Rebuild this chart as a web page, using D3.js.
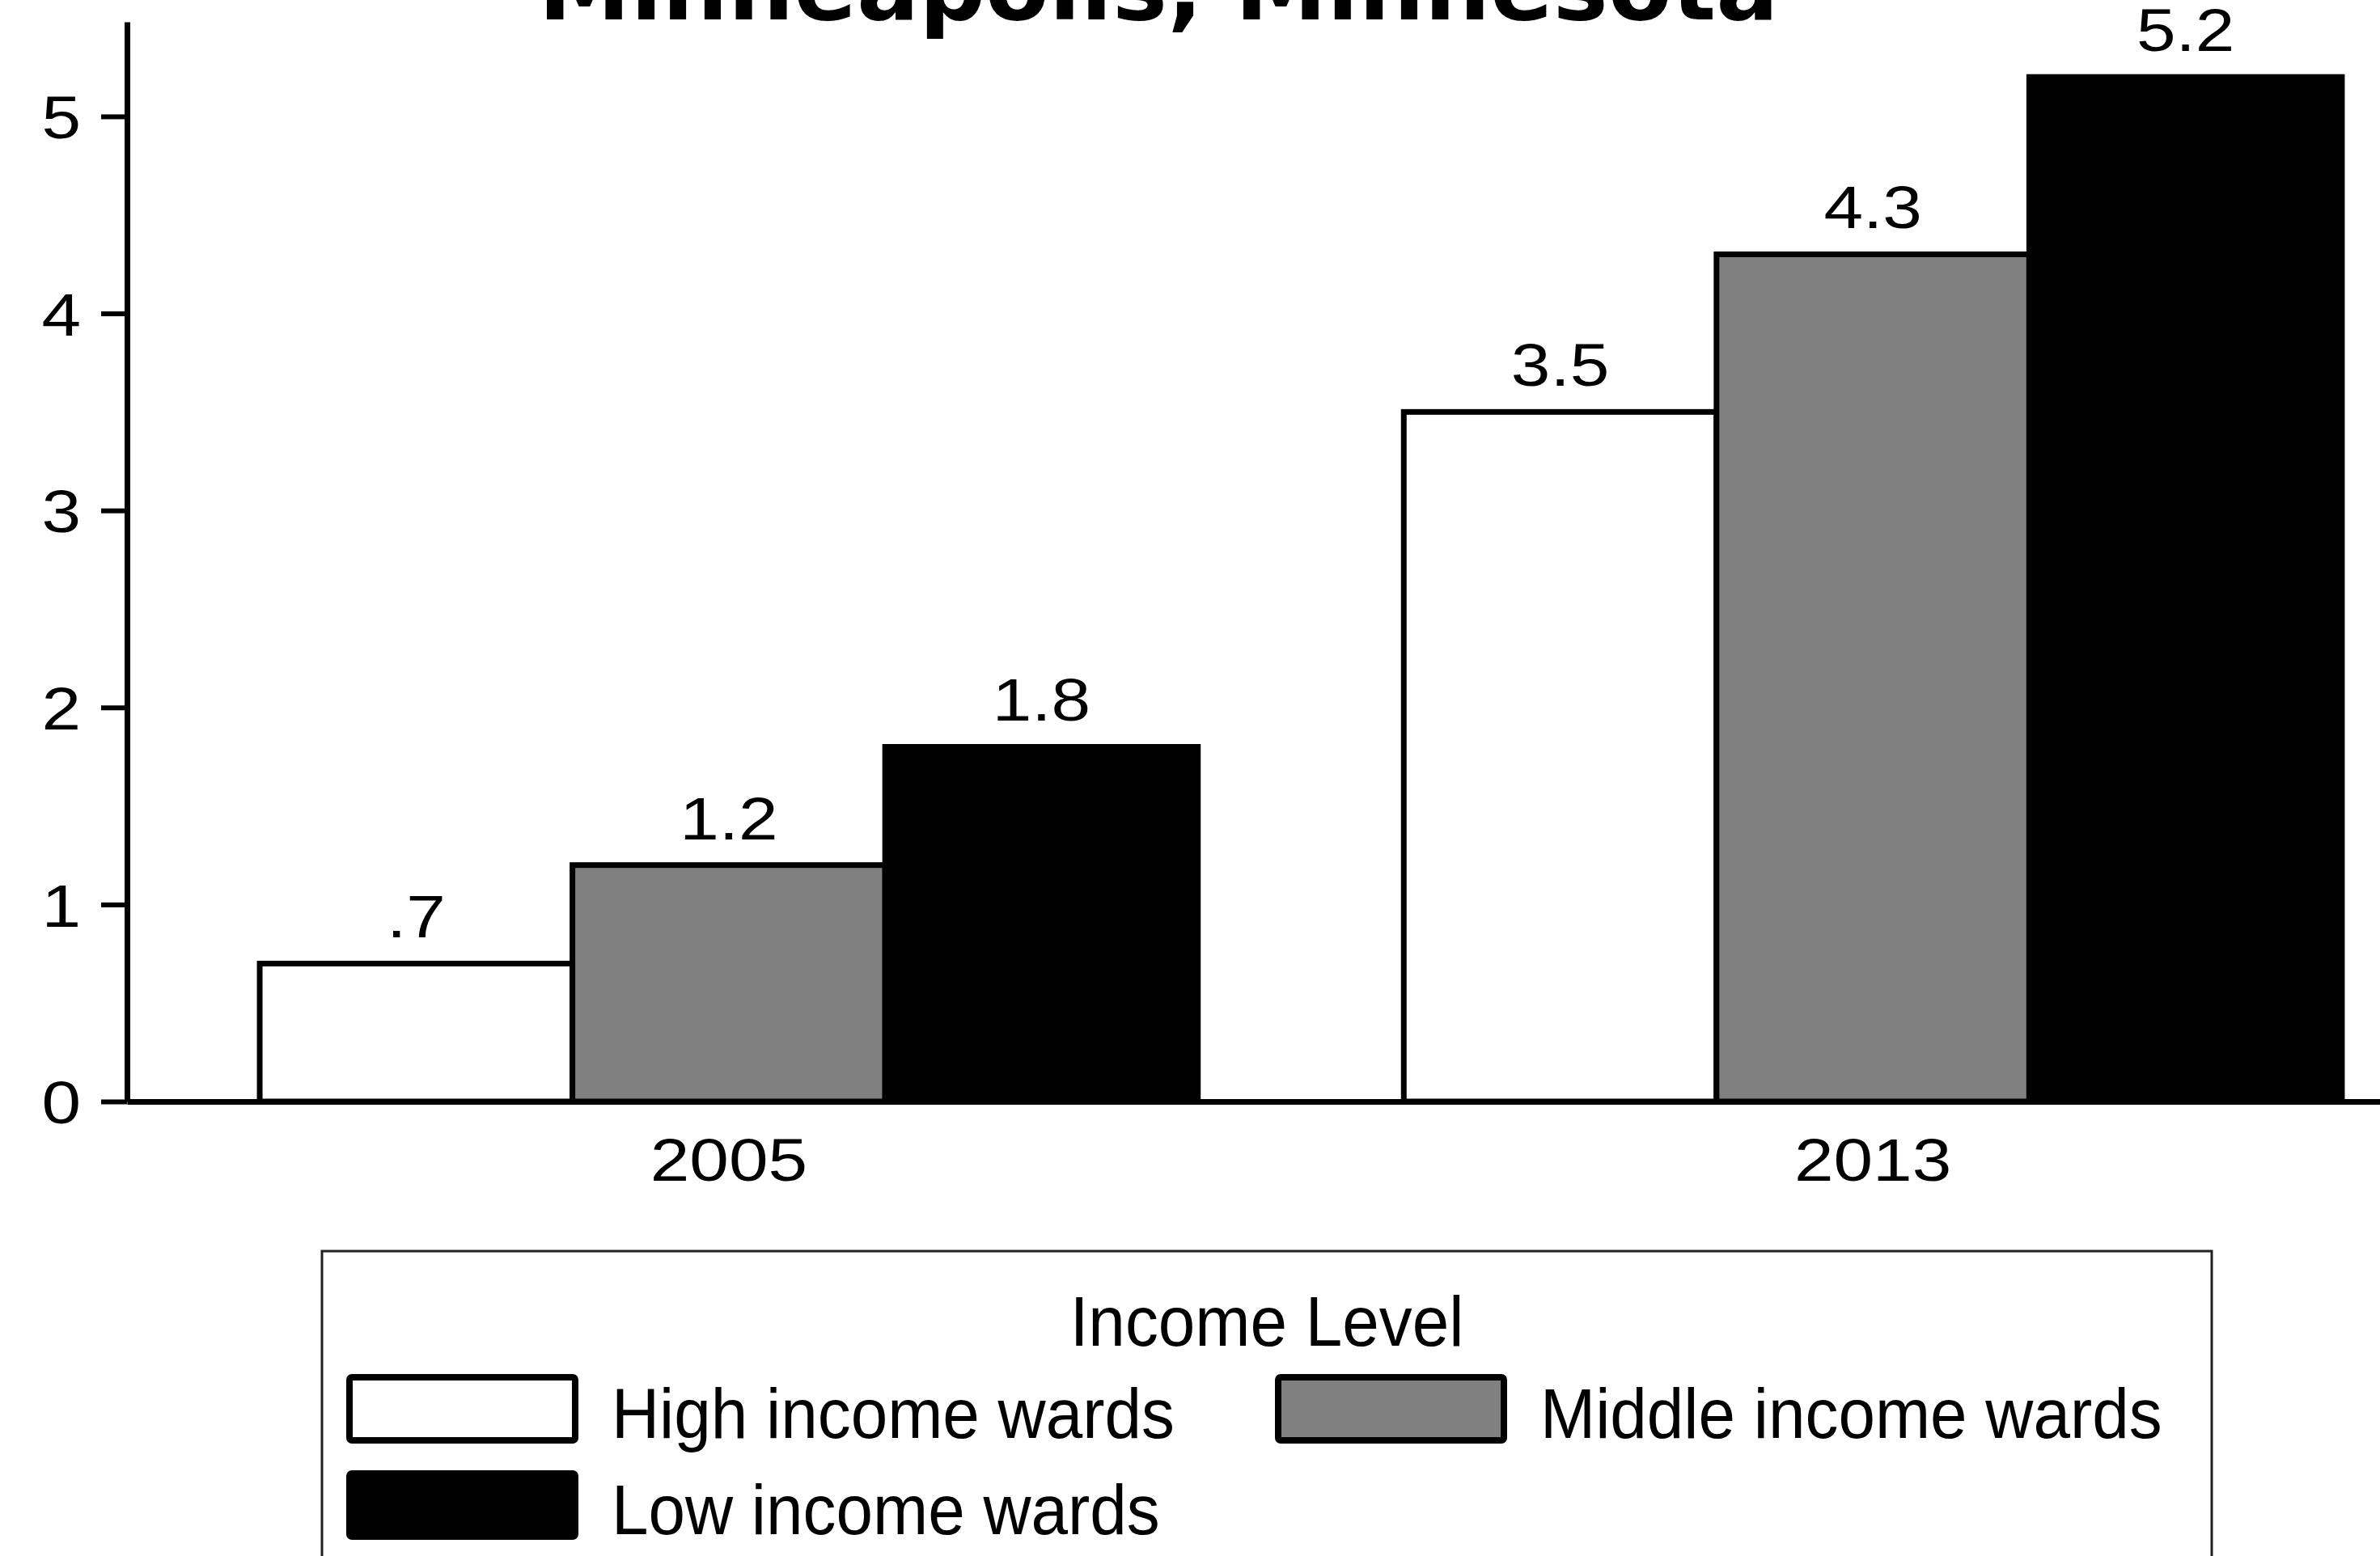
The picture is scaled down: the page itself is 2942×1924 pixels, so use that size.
<!DOCTYPE html>
<html>
<head>
<meta charset="utf-8">
<script src="https://cdn.jsdelivr.net/npm/d3@7"></script>
<style>
  html, body { margin: 0; padding: 0; background: #fff; }
  svg { display: block; }
</style>
</head>
<body>
<script>
// ---------- data ----------
const titleText = "Minneapolis, Minnesota";
const years = ["2005", "2013"];
const seriesNames = ["High income wards", "Middle income wards", "Low income wards"];
const highIncome = [0.7, 3.5];
const middleIncome = [1.2, 4.3];
const lowIncome = [1.8, 5.2];
const yTicks = [0, 1, 2, 3, 4, 5];
const legendTitle = "Income Level";

// ---------- styles ----------
const fills = ["#ffffff", "#808080", "#000000"];
const W = 2942, H = 1924;
const numFont = "'Liberation Sans', Arial, Helvetica, sans-serif";
const numSize = 74, numScaleX = 1.18;
const legSize = 88, legScaleX = 0.93;

const seriesValues = [highIncome, middleIncome, lowIncome];
const rows = [];
years.forEach((yr, i) => seriesNames.forEach((s, j) => rows.push({ year: yr, series: s, idx: j, value: seriesValues[j][i] })));

const svg = d3.select("body").append("svg").attr("width", W).attr("height", H);
svg.append("rect").attr("width", W).attr("height", H).attr("fill", "#fff");

// ---------- scales ----------
const x0 = d3.scaleBand().domain(years).range([157, 3059]).paddingInner(0.18).paddingOuter(0.116);
const x1 = d3.scaleBand().domain(seriesNames).range([0, x0.bandwidth()]).padding(0);
const y = d3.scaleLinear().domain([0, 5.48]).range([1362, 27]);

const fmt = v => d3.format(".1f")(v).replace(/^0\./, ".");

// ---------- bars ----------
const bars = svg.append("g");
bars.selectAll("rect").data(rows).join("rect")
  .attr("x", d => x0(d.year) + x1(d.series))
  .attr("y", d => y(d.value))
  .attr("width", x1.bandwidth())
  .attr("height", d => y(0) - y(d.value))
  .attr("fill", d => fills[d.idx])
  .attr("stroke", "#000")
  .attr("stroke-width", 7);

// value labels
svg.append("g").selectAll("text").data(rows).join("text")
  .attr("transform", d => `translate(${x0(d.year) + x1(d.series) + x1.bandwidth() / 2},${y(d.value) - 32}) scale(${numScaleX},1)`)
  .attr("text-anchor", "middle")
  .attr("font-family", numFont)
  .attr("font-size", numSize)
  .attr("fill", "#000")
  .text(d => fmt(d.value));

// ---------- y axis ----------
const yAxis = svg.append("g").attr("transform", "translate(157,0)")
  .call(d3.axisLeft(y).tickValues(yTicks).tickSize(32).tickSizeOuter(0).tickFormat(d3.format("d")));
yAxis.select(".domain").attr("stroke", "#000").attr("stroke-width", 7);
yAxis.selectAll(".tick line").attr("stroke", "#000").attr("stroke-width", 6);
yAxis.selectAll(".tick text")
  .attr("x", null).attr("dy", null)
  .attr("transform", `translate(-57,${numSize * 0.36}) scale(${numScaleX},1)`)
  .attr("text-anchor", "end")
  .attr("font-family", numFont)
  .attr("font-size", numSize)
  .attr("fill", "#000");

// ---------- x axis ----------
const xAxis = svg.append("g").attr("transform", `translate(0,${y(0)})`)
  .call(d3.axisBottom(x0).tickSize(0).tickSizeOuter(0));
xAxis.select(".domain").attr("stroke", "#000").attr("stroke-width", 7);
xAxis.selectAll(".tick text")
  .attr("y", null).attr("dy", null)
  .attr("transform", `translate(0,98) scale(${numScaleX},1)`)
  .attr("text-anchor", "middle")
  .attr("font-family", numFont)
  .attr("font-size", numSize)
  .attr("fill", "#000");

// ---------- title ----------
const title = svg.append("text")
  .attr("x", 1432).attr("y", 24)
  .attr("text-anchor", "middle")
  .attr("font-family", "'DejaVu Sans', Verdana, sans-serif")
  .attr("font-weight", "bold")
  .attr("font-size", 100)
  .attr("fill", "#000")
  .text(titleText);
const tl = title.node().getComputedTextLength();
title.attr("font-size", 100 * 1533 / tl);

// ---------- legend ----------
const legend = svg.append("g");
legend.append("rect")
  .attr("x", 398).attr("y", 1547).attr("width", 2336).attr("height", 500)
  .attr("fill", "#fff").attr("stroke", "#222").attr("stroke-width", 3);
legend.append("text")
  .attr("transform", `translate(1566,1664) scale(${legScaleX},1)`)
  .attr("text-anchor", "middle")
  .attr("font-family", numFont)
  .attr("font-size", legSize)
  .attr("fill", "#000")
  .text(legendTitle);

const colX = [428, 1576];
const items = legend.selectAll("g.item").data(seriesNames).join("g")
  .attr("class", "item")
  .attr("transform", (d, i) => `translate(${colX[i % 2]},${1699 + Math.floor(i / 2) * 119})`);
items.append("rect")
  .attr("x", 4).attr("y", 4).attr("width", 279).attr("height", 78)
  .attr("rx", 3)
  .attr("fill", (d, i) => fills[i])
  .attr("stroke", "#000").attr("stroke-width", 8);
items.append("text")
  .attr("transform", `translate(328,79) scale(${legScaleX},1)`)
  .attr("font-family", numFont)
  .attr("font-size", legSize)
  .attr("fill", "#000")
  .text(d => d);
</script>
</body>
</html>
